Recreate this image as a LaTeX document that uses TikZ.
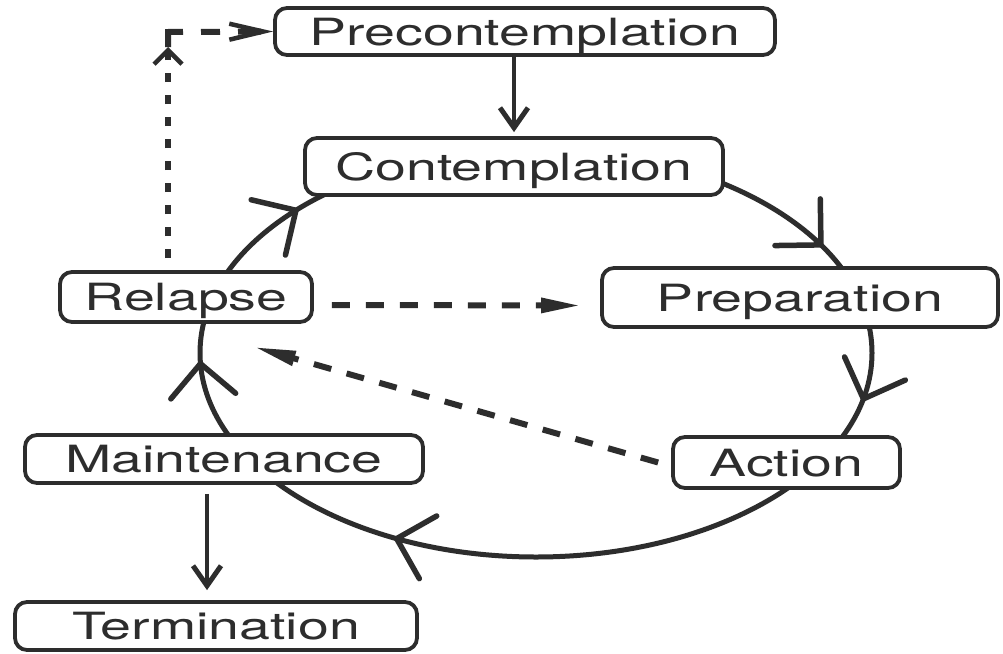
\documentclass[tikz,border=0pt]{standalone}
\usepackage{fontspec}
\setmainfont[FakeStretch=1.48]{TeX Gyre Heros}
\usetikzlibrary{arrows.meta,calc}
\definecolor{ink}{RGB}{45,45,45}
\begin{document}
\begin{tikzpicture}[x=1pt,y=-1pt,
  stage/.style={draw=ink, line width=3.8pt, rounded corners=12pt, fill=white,
    inner sep=0pt, text height=27pt, text depth=0pt,
    font=\fontsize{37.5}{40}\selectfont, text=ink},
  cyc/.style={draw=ink, line width=5pt},
  barb/.style={draw=ink, line width=5.5pt, line cap=round, line join=round},
  solidarrow/.style={draw=ink, line width=4.5pt,
    -{Straight Barb[length=20pt,width=28pt,line width=5pt]}},
  hdashed/.style={draw=ink, line width=6pt, dash pattern=on 18pt off 16pt},
  vdashed/.style={draw=ink, line width=6pt, dash pattern=on 9pt off 13pt},
]
\useasboundingbox (0,0) rectangle (1003,653);
\fill[white] (0,0) rectangle (1003,653);

% cycle
\draw[cyc] (536,353) ellipse [x radius=336pt, y radius=204pt];
\foreach \t in {135.6,32,-13,245.5,183} {
  \pgfmathsetmacro\px{536+336*cos(\t)}
  \pgfmathsetmacro\py{353-204*sin(\t)}
  \pgfmathsetmacro\ang{atan2(-204*cos(\t),-336*sin(\t))}
  \draw[barb] ($(\px,\py)+({\ang+45}:46)$) -- (\px,\py) -- ($(\px,\py)+({\ang-45}:46)$);
}

% stages
\node[stage, minimum width=500pt, minimum height=47pt] (precon) at (525,31.5) {Precontemplation};
\node[stage, minimum width=418pt, minimum height=57pt] (contemp) at (514,166.5) {Contemplation};
\node[stage, minimum width=396pt, minimum height=59pt] (prep) at (800,297.5) {Preparation};
\node[stage, minimum width=252pt, minimum height=50pt] (relapse) at (186,297) {Relapse};
\node[stage, minimum width=227pt, minimum height=51pt] (action) at (786.5,462.5) {Action};
\node[stage, minimum width=398pt, minimum height=48pt] (maint) at (224,459) {Maintenance};
\node[stage, minimum width=402pt, minimum height=48pt] (term) at (216,626) {Termination};

% solid arrows
\draw[solidarrow, shorten >=4pt] (contemp.north |- precon.south) -- (contemp.north);
\draw[solidarrow] ($(maint.south)+(-17,9)$) -- ($(term.north)+(-9,-10)$);

% dashed arrows
\coordinate (corner) at (168,32);
\coordinate (uptip) at (168,47);
\draw[vdashed, -{Straight Barb[length=14pt,width=28pt,line width=4.5pt]}]
  ($(relapse.north -| corner)+(0,-12)$) -- (uptip);
\draw[draw=ink, line width=6pt, dash pattern=on 30pt off 18pt on 19pt off 18pt,
  -{Straight Barb[length=34pt,width=16pt,line width=4.5pt]}]
  (uptip) -- (corner) -- (precon.west);
\draw[hdashed, -{Triangle[length=40pt,width=14pt]}]
  ($(relapse.east)+(18,8)$) -- ($(prep.west)+(-19,8)$);
\draw[hdashed, -{Triangle[length=42pt,width=14pt]}]
  ($(action.west)+(-13,0)$) -- ($(relapse.south east)+(-60,23)$);
\end{tikzpicture}
\end{document}
